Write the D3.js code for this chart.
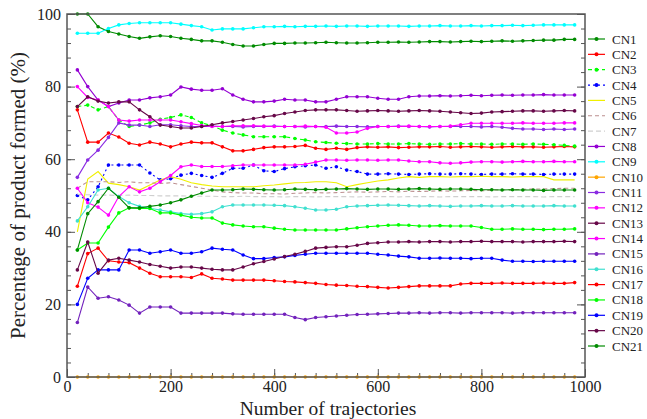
<!DOCTYPE html>
<html>
<head>
<meta charset="utf-8">
<script src="https://cdn.jsdelivr.net/npm/d3@7"></script>
<style>
  html, body { margin: 0; padding: 0; background: #fff; }
  .axis line { stroke: #555; }
</style>
</head>
<body>
<svg id="chart" width="647" height="419"></svg>
<script>
// x positions (number of trajectories)
const trajectories = d3.range(20, 1000, 20);

const seriesNames = ["CN1","CN2","CN3","CN4","CN5","CN6","CN7","CN8","CN9","CN10","CN11",
  "CN12","CN13","CN14","CN15","CN16","CN17","CN18","CN19","CN20","CN21"];

// percentage of product formed, one array per series
const cn1 = [100, 100, 96.5, 95.2, 94.5, 93.8, 93.3, 93.7, 94, 93.8,
  93.3, 93, 92.6, 92.6, 92.2, 91.6, 91.2, 91.2, 91.6, 91.9,
  91.9, 92, 92, 92.1, 92.2, 92.1, 92, 92, 92.1, 92.2,
  92.2, 92.3, 92.2, 92.3, 92.4, 92.4, 92.3, 92.4, 92.5, 92.4,
  92.5, 92.6, 92.5, 92.6, 92.7, 92.8, 92.8, 93, 93];
const cn2 = [73.6, 64.7, 64.7, 67.2, 66.1, 64.4, 63.9, 64.7, 64.2, 63.4,
  64.2, 64.7, 64.5, 64.5, 63.4, 62.3, 62.3, 62.7, 63.2, 63.4,
  63.4, 63.5, 63.8, 63, 62.7, 63, 62.7, 63.2, 63.4, 63.3,
  63.4, 63.2, 63.3, 63.4, 63.4, 63.5, 63.3, 63.4, 63.5, 63.4,
  63.3, 63.4, 63.5, 63.4, 63.4, 63.3, 63.4, 63.5, 63.4];
const cn3 = [74.5, 74.9, 73.6, 74.5, 70.8, 69, 69.4, 70, 71, 71.5,
  72.2, 71.5, 70, 69.2, 68, 67.2, 66.7, 66.2, 66.2, 66.2,
  66.2, 65.7, 65.3, 64.8, 64.6, 64.4, 64.3, 64.2, 64.2, 64.3,
  64.2, 64.2, 64.3, 64.2, 64.1, 64.2, 64.2, 64.3, 64.2, 64.2,
  64.1, 64.2, 64.2, 64.1, 64.2, 64.1, 64, 63.8, 63.6];
const cn4 = [50, 48.8, 52.4, 58.4, 58.4, 58.4, 58.4, 56.2, 54.3, 54.6,
  55.6, 56.1, 55.5, 55, 56.1, 57.5, 57.5, 58.4, 56.8, 56.6,
  57.4, 57.9, 58.2, 58.4, 57.5, 57.9, 57, 56.6, 55.9, 55.9,
  56, 55.9, 55.8, 55.9, 56, 55.9, 55.9, 56, 55.9, 55.8,
  55.9, 55.9, 56, 55.9, 55.9, 55.8, 55.9, 55.9, 55.9];
const cn5 = [40, 54.5, 56.6, 53.4, 53, 52.4, 51.5, 52.9, 54.3, 55.2,
  54.5, 53.5, 53, 52.6, 52.4, 52.4, 52.4, 52.4, 52.7, 52.9,
  53.2, 53.5, 53.6, 53.8, 53.8, 53.5, 52.4, 53, 53.5, 54,
  54.3, 54.8, 55.2, 55, 55.2, 55.2, 55.1, 55.2, 55.2, 55.3,
  55.2, 55.2, 55.1, 55.2, 55.2, 55.2, 54.3, 54.3, 54.3];
const cn6 = [52, 53.8, 53.8, 53.8, 53.6, 53.8, 53.5, 53.5, 53.3, 53.5,
  53, 52.5, 52, 51.5, 51, 50.8, 50.7, 50.7, 50.5, 50.5,
  50.4, 50.6, 50.7, 50.8, 50.7, 50.8, 50.9, 51, 50.9, 51,
  51.1, 51, 51.2, 51.1, 51.2, 51.3, 51.2, 51.3, 51.4, 51.3,
  51.5, 51.6, 51.6, 51.7, 51.8, 51.8, 51.9, 52, 52];
const cn7 = [50.3, 50.2, 50.1, 50.1, 50, 50.1, 50, 50, 49.9, 49.9,
  49.9, 49.8, 49.8, 49.8, 49.7, 49.7, 49.8, 49.7, 49.7, 49.7,
  49.6, 49.7, 49.7, 49.6, 49.7, 49.7, 49.7, 49.6, 49.7, 49.7,
  49.7, 49.6, 49.7, 49.7, 49.7, 49.6, 49.7, 49.7, 49.7, 49.7,
  49.6, 49.7, 49.7, 49.7, 49.7, 49.6, 49.7, 49.7, 49.7];
const cn8 = [84.6, 80, 76.3, 74.5, 75.5, 76.3, 76.3, 76.9, 77.2, 77.7,
  79.9, 79.3, 79, 79, 79.4, 77.7, 76.5, 75.8, 75.8, 76,
  76.5, 76.3, 76.3, 75.8, 75.8, 76.5, 77.2, 77.2, 77.2, 76.8,
  76.5, 76.5, 77.2, 77.4, 77.4, 77.5, 77.4, 77.5, 77.6, 77.5,
  77.6, 77.7, 77.6, 77.7, 77.7, 77.8, 77.7, 77.7, 77.7];
const cn9 = [94.7, 94.7, 94.7, 96, 97, 97.4, 97.6, 97.6, 97.6, 97.6,
  97.2, 96.8, 96.5, 95.6, 95.9, 95.9, 95.9, 96.2, 96.5, 96.5,
  96.6, 96.5, 96.6, 96.6, 96.7, 96.6, 96.7, 96.7, 96.6, 96.7,
  96.7, 96.7, 96.6, 96.7, 96.7, 96.8, 96.7, 96.7, 96.8, 96.7,
  96.8, 96.8, 96.9, 96.8, 96.9, 97, 97, 97, 97];
const cn10 = [0, 0, 0, 0, 0, 0, 0, 0, 0, 0,
  0, 0, 0, 0, 0, 0, 0, 0, 0, 0,
  0, 0, 0, 0, 0, 0, 0, 0, 0, 0,
  0, 0, 0, 0, 0, 0, 0, 0, 0, 0,
  0, 0, 0, 0, 0, 0, 0, 0, 0];
const cn11 = [55, 59.8, 62.5, 66, 70, 69.4, 69.4, 69, 69.5, 69.5,
  69.2, 69, 69, 69.1, 69, 69, 68.9, 69, 69, 69.1,
  69, 69, 68.9, 69, 69, 69.1, 69, 69, 68.9, 69,
  69, 69.1, 69, 69, 68.9, 69, 69, 69, 69, 68.9,
  69, 68.8, 68.5, 68.3, 68.3, 68.2, 68.3, 68.2, 68.3];
const cn12 = [80, 77, 76.3, 74.5, 70.8, 70.5, 70.8, 70.8, 70.8, 70.8,
  70.3, 69.8, 69.3, 69, 69, 69.2, 69.2, 69.2, 69.1, 69,
  69, 69, 69.1, 69, 68.8, 67.2, 67.2, 67.5, 68.5, 69,
  69, 69, 69.1, 69, 69, 69, 69.1, 69.5, 69.9, 69.9,
  69.9, 69.9, 69.9, 70, 69.9, 69.9, 69.9, 70, 70];
const cn13 = [74.5, 77.2, 76, 75.5, 75.8, 75.8, 73.6, 71.7, 69.4, 69,
  68.6, 68.6, 69, 69.5, 70, 70.4, 70.8, 71.2, 71.7, 72,
  72.6, 73, 73.4, 73.6, 73.6, 73.6, 73.4, 73.2, 73.3, 73.4,
  73.3, 73.2, 73.3, 73.4, 73.3, 73.2, 73, 72.8, 72.6, 72.7,
  73, 73.1, 73.2, 73.3, 73.3, 73.2, 73.3, 73.4, 73.3];
const cn14 = [52, 48, 46.8, 44.6, 49.7, 52.4, 51, 52, 53.8, 55.5,
  57.9, 58.4, 58, 58, 58, 58.2, 58.4, 58.4, 58.4, 58.4,
  58.4, 58.4, 58.6, 59.2, 59.8, 59.8, 59.7, 59.8, 59.8, 59.7,
  59.8, 59.8, 59.5, 59.3, 59.3, 59, 58.9, 59, 59.2, 59.3,
  59.3, 59.2, 59.3, 59.4, 59.3, 59.3, 59.4, 59.3, 59.3];
const cn15 = [15, 24.8, 21.7, 22.1, 21.2, 19.8, 17.6, 19.3, 19.3, 19.3,
  17.6, 17.6, 17.6, 17.6, 17.6, 17.4, 17.3, 17.3, 17.3, 17.3,
  17.3, 16.4, 15.8, 16.4, 16.6, 16.8, 17, 17.2, 17.3, 17.4,
  17.5, 17.6, 17.6, 17.7, 17.6, 17.7, 17.7, 17.6, 17.7, 17.7,
  17.7, 17.7, 17.6, 17.7, 17.7, 17.7, 17.7, 17.7, 17.7];
const cn16 = [43, 46.9, 51.5, 52, 49.7, 48, 47, 46.5, 46, 45.5,
  45, 44.8, 45, 45.5, 46.9, 47.4, 47.4, 47.4, 47.4, 47.3,
  47.2, 46.9, 46.5, 46, 46, 46.2, 46.9, 47.1, 47.2, 47.3,
  47.4, 47.3, 47.2, 47.1, 47.2, 47.1, 47, 47.1, 47.1, 47.2,
  47.1, 47.1, 47.2, 47.1, 47.1, 47.1, 47.2, 47.1, 47.1];
const cn17 = [25, 34, 35.5, 32, 31.7, 31.5, 30, 28.6, 27.6, 27.6,
  27.6, 27.4, 28.4, 27.2, 27, 26.7, 26.7, 26.7, 26.7, 26.5,
  26.3, 26.2, 26, 25.8, 25.5, 25.3, 25.2, 25, 24.9, 24.7,
  24.5, 24.7, 24.9, 25.1, 25.1, 25.1, 25.1, 25.6, 25.8, 25.8,
  25.8, 25.9, 25.8, 25.8, 25.8, 25.9, 25.8, 25.8, 26];
const cn18 = [35, 36.9, 36.9, 41.3, 45.2, 46.6, 46.4, 46.4, 45.2, 45.2,
  44.6, 44, 43.8, 43.8, 42.4, 41.9, 41.6, 41.4, 41.4, 41,
  40.7, 40.5, 40.5, 40.5, 40.5, 40.5, 40.8, 41.1, 41.4, 41.6,
  41.8, 41.9, 41.8, 41.6, 41.6, 41.7, 41.6, 41.6, 41.6, 41.2,
  40.7, 40.7, 40.8, 40.7, 40.7, 40.6, 40.7, 40.7, 40.8];
const cn19 = [20, 27.2, 29.5, 29.5, 29.5, 35, 35, 34.1, 34.5, 35,
  34.1, 34.1, 34.5, 35.5, 35.2, 35, 33.6, 32.6, 32.6, 32.9,
  33.1, 33.5, 33.8, 34.1, 34.1, 34.1, 34.1, 34.1, 34.1, 33.8,
  33.6, 33.3, 33.1, 32.7, 32.7, 32.8, 32.7, 32.7, 32.6, 32.7,
  32.7, 32.2, 31.9, 31.9, 31.8, 31.9, 31.9, 31.9, 31.9];
const cn20 = [29.5, 37.2, 28.6, 32.2, 32.7, 32.2, 31.7, 31, 30.5, 30,
  30.3, 30.3, 30, 29.7, 29.5, 29.5, 30.3, 31.2, 31.8, 32.5,
  33.2, 33.8, 34.6, 35.5, 35.7, 35.9, 35.9, 36.3, 36.8, 37,
  37.2, 37.2, 37.3, 37.2, 37.3, 37.3, 37.2, 37.3, 37.3, 37.4,
  37.3, 37.3, 37.3, 37.2, 37.3, 37.3, 37.3, 37.4, 37.3];
const cn21 = [35, 45, 48.3, 52, 49.5, 46.6, 46.6, 47, 47.4, 48,
  48.8, 49.8, 50.7, 51.5, 51.5, 51.6, 51.8, 51.7, 51.6, 51.5,
  51.6, 51.8, 51.7, 51.6, 51.7, 51.8, 51.9, 51.8, 51.7, 51.8,
  51.8, 51.7, 51.8, 51.9, 51.8, 51.7, 51.8, 51.8, 51.7, 51.6,
  51.6, 51.5, 51.6, 51.5, 51.5, 51.4, 51.5, 51.5, 51.5];

const seriesValues = [cn1, cn2, cn3, cn4, cn5, cn6, cn7, cn8, cn9, cn10, cn11,
  cn12, cn13, cn14, cn15, cn16, cn17, cn18, cn19, cn20, cn21];

const xTickLabels = [0, 200, 400, 600, 800, 1000];
const yTickLabels = [0, 20, 40, 60, 80, 100];

// xmgrace-like palette
const COLORS = ["#008b00", "#ff0000", "#00ff00", "#0000ff", "#f0f000", "#bc8f8f", "#cfcfcf",
  "#9400d3", "#00ffff", "#ffa500", "#8a2be2", "#ff00ff", "#670748", "#ff00ff", "#7221bc",
  "#40e0d0", "#ff0000", "#00ff00", "#0000ff", "#670748", "#008b00"];
const DASHED = { CN3: "4,3", CN4: "2,3", CN6: "4,3", CN7: "5,3" };
const NO_MARKER = new Set(["CN5", "CN6", "CN7"]);
const SERIF = "\"Liberation Serif\", \"Times New Roman\", serif";

const svg = d3.select("#chart");
const m = { left: 67, right: 585, top: 14, bottom: 377 };

const x = d3.scaleLinear().domain([0, 1000]).range([m.left, m.right]);
const y = d3.scaleLinear().domain([0, 100]).range([m.bottom, m.top]);

// minor ticks (inward)
const xMinor = d3.range(0, 1001, 40);
const yMinor = d3.range(0, 101, 4);

function clean(g) {
  g.select(".domain").remove();
  g.selectAll("text")
    .style("font-family", SERIF)
    .style("font-size", "16px")
    .style("fill", "#222");
}

svg.append("g").attr("class", "axis")
  .attr("transform", `translate(0,${m.bottom})`)
  .call(d3.axisBottom(x).tickValues(xMinor).tickSize(-4).tickFormat(""))
  .call(clean);
svg.append("g").attr("class", "axis")
  .attr("transform", `translate(${m.left},0)`)
  .call(d3.axisLeft(y).tickValues(yMinor).tickSize(-4).tickFormat(""))
  .call(clean);
svg.append("g").attr("class", "axis")
  .attr("transform", `translate(${m.right},0)`)
  .call(d3.axisRight(y).tickValues(yMinor).tickSize(-4).tickFormat(""))
  .call(clean);

// major ticks + labels
svg.append("g").attr("class", "axis")
  .attr("transform", `translate(0,${m.bottom})`)
  .call(d3.axisBottom(x).tickValues(xTickLabels).tickSize(-8).tickPadding(4).tickFormat(d3.format("d")))
  .call(clean);
svg.append("g").attr("class", "axis")
  .attr("transform", `translate(${m.left},0)`)
  .call(d3.axisLeft(y).tickValues(yTickLabels).tickSize(-8).tickPadding(6).tickFormat(d3.format("d")))
  .call(clean);
svg.append("g").attr("class", "axis")
  .attr("transform", `translate(${m.right},0)`)
  .call(d3.axisRight(y).tickValues(yTickLabels).tickSize(-8).tickFormat(""))
  .call(clean);

// series
const line = d3.line().x((d, i) => x(trajectories[i])).y(d => y(d));

const plot = svg.append("g");
seriesNames.forEach((name, k) => {
  const vals = seriesValues[k];
  plot.append("path")
    .attr("d", line(vals))
    .attr("fill", "none")
    .attr("stroke", COLORS[k])
    .attr("stroke-width", 1.1)
    .attr("stroke-dasharray", DASHED[name] || null);
  if (!NO_MARKER.has(name)) {
    plot.selectAll(null)
      .data(vals)
      .join("circle")
      .attr("cx", (d, i) => x(trajectories[i]))
      .attr("cy", d => y(d))
      .attr("r", 1.8)
      .attr("fill", COLORS[k]);
  }
});

// frame
svg.append("rect")
  .attr("x", m.left).attr("y", m.top)
  .attr("width", m.right - m.left).attr("height", m.bottom - m.top)
  .attr("fill", "none").attr("stroke", "#555").attr("stroke-width", 1.5);

// axis titles
svg.append("text")
  .attr("x", (m.left + m.right) / 2 + 2).attr("y", 414.5)
  .attr("text-anchor", "middle").attr("fill", "#222")
  .style("font-family", SERIF).style("font-size", "19.5px")
  .text("Number of trajectories");
svg.append("text")
  .attr("transform", `translate(25,${(m.top + m.bottom) / 2}) rotate(-90)`)
  .attr("text-anchor", "middle").attr("fill", "#222")
  .style("font-family", SERIF).style("font-size", "21px")
  .text("Percentage of product formed (%)");

// legend
const legend = svg.append("g");
seriesNames.forEach((name, k) => {
  const ly = 39 + k * 15.35;
  const g = legend.append("g").attr("transform", `translate(588,${ly})`);
  g.append("line")
    .attr("x1", 0).attr("x2", 17).attr("y1", 0).attr("y2", 0)
    .attr("stroke", COLORS[k]).attr("stroke-width", 1.2)
    .attr("stroke-dasharray", DASHED[name] || null);
  if (!NO_MARKER.has(name)) {
    g.append("circle").attr("cx", 8.5).attr("cy", 0).attr("r", 2).attr("fill", COLORS[k]);
  }
  g.append("text")
    .attr("x", 24).attr("y", 4.5).attr("fill", "#222")
    .style("font-family", SERIF).style("font-size", "13px")
    .text(name);
});
</script>
</body>
</html>
